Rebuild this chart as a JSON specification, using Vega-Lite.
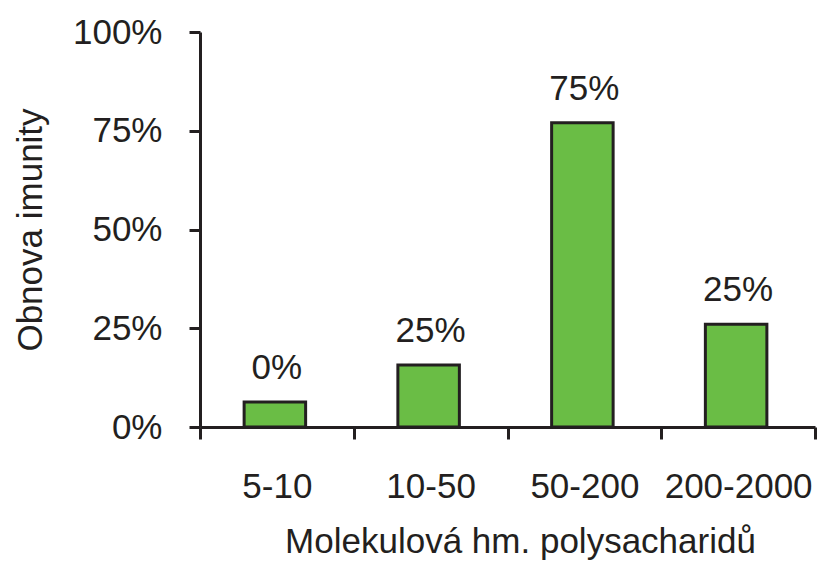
{
  "$schema": "https://vega.github.io/schema/vega-lite/v6.json",
  "width": 615,
  "height": 395,
  "autosize": {"type": "none"},
  "padding": {"left": 200, "top": 32, "right": 7, "bottom": 135},
  "background": "white",
  "config": {"view": {"stroke": null}, "font": "Liberation Sans"},
  "data": {
    "values": [
      {"mw": "5-10", "obnova": 0.063, "label": "0%"},
      {"mw": "10-50", "obnova": 0.157, "label": "25%"},
      {"mw": "50-200", "obnova": 0.77, "label": "75%"},
      {"mw": "200-2000", "obnova": 0.26, "label": "25%"}
    ]
  },
  "encoding": {
    "x": {
      "field": "mw",
      "type": "nominal",
      "sort": null,
      "scale": {"paddingInner": 0, "paddingOuter": 0},
      "axis": {
        "title": "Molekulová hm. polysacharidů",
        "titleFontSize": 35,
        "titleFontWeight": "normal",
        "titleColor": "#231f20",
        "titlePadding": 20,
        "titleX": 320,
        "labelAngle": 0,
        "labelFontSize": 35,
        "labelColor": "#231f20",
        "labelPadding": 30,
        "tickBand": "extent",
        "tickSize": 12,
        "tickWidth": 3,
        "tickColor": "#231f20",
        "domainWidth": 3,
        "domainColor": "#231f20",
        "grid": false
      }
    },
    "y": {
      "field": "obnova",
      "type": "quantitative",
      "scale": {"domain": [0, 1]},
      "axis": {
        "title": "Obnova imunity",
        "titleFontSize": 35,
        "titleFontWeight": "normal",
        "titleColor": "#231f20",
        "titlePadding": 24,
        "values": [0, 0.25, 0.5, 0.75, 1],
        "format": ".0%",
        "labelFontSize": 35,
        "labelColor": "#231f20",
        "labelPadding": 27,
        "tickSize": 11,
        "tickWidth": 3,
        "tickColor": "#231f20",
        "domainWidth": 3,
        "domainColor": "#231f20",
        "grid": false
      }
    }
  },
  "layer": [
    {
      "mark": {"type": "bar", "width": {"band": 0.4}, "xOffset": -2, "fill": "#6abd45", "stroke": "#231f20", "strokeWidth": 3}
    },
    {
      "mark": {"type": "text", "baseline": "alphabetic", "dy": -23, "fontSize": 35, "color": "#231f20"},
      "encoding": {"text": {"field": "label"}}
    }
  ]
}
